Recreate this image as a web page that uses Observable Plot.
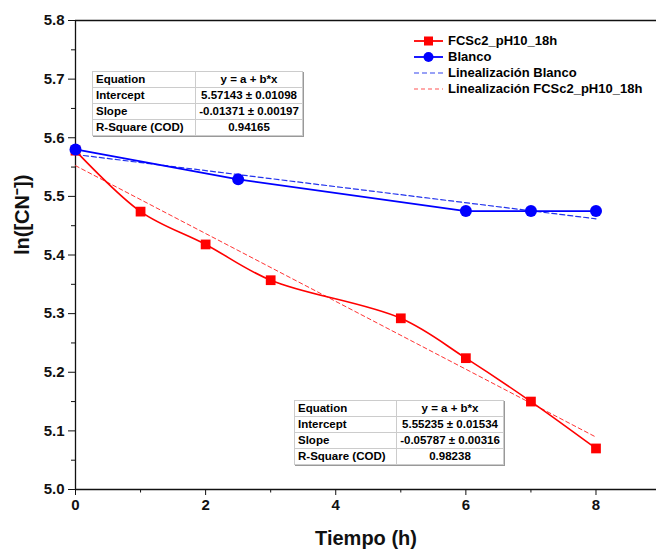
<!DOCTYPE html>
<html>
<head>
<meta charset="utf-8">
<script src="https://cdn.jsdelivr.net/npm/d3@7"></script>
<script src="https://cdn.jsdelivr.net/npm/@observablehq/plot@0.6"></script>
<style>
  html, body { margin: 0; padding: 0; background: #fff; }
  #wrap { position: relative; width: 656px; height: 556px; font-family: "Liberation Sans", Arial, sans-serif; }
  .tbl { position: absolute; border-collapse: collapse; font-family: "Liberation Sans", Arial, sans-serif; font-weight: bold; font-size: 11.5px; background: #fff; box-shadow: 1px 1px 0 #999; }
  .tbl td { border: 1px solid #ccc; padding: 0 3px; height: 15px; line-height: 15px; white-space: nowrap; }
  .tbl { border: 1px solid #333; }
  .tbl td.v { text-align: center; }
  .legend { position: absolute; font-family: "Liberation Sans", Arial, sans-serif; font-weight: bold; font-size: 13px; }
  .legend .row { position: relative; height: 16px; line-height: 16px; }
  .legend svg { position: absolute; left: 0; top: 0; }
  .legend span { position: absolute; left: 34px; top: 0; white-space: nowrap; }
</style>
</head>
<body>
<div id="wrap"></div>
<script>
// Data
const redX = [0, 1, 2, 3, 5, 6, 7, 8];
const redY = [5.578, 5.474, 5.418, 5.357, 5.292, 5.224, 5.150, 5.070];
const blueX = [0, 2.5, 6, 7, 8];
const blueY = [5.580, 5.529, 5.475, 5.475, 5.475];
const seriesNames = ["FCSc2_pH10_18h", "Blanco", "Linealización Blanco", "Linealización FCSc2_pH10_18h"];
const fitIntercept = {blanco: 5.57143, red: 5.55235};
const fitSlope = {blanco: -0.01371, red: -0.05787};
const fitRange = [0, 8];
const tableBlanco = [["Equation", "y = a + b*x"], ["Intercept", "5.57143 ± 0.01098"], ["Slope", "-0.01371 ± 0.00197"], ["R-Square (COD)", "0.94165"]];
const tableRed = [["Equation", "y = a + b*x"], ["Intercept", "5.55235 ± 0.01534"], ["Slope", "-0.05787 ± 0.00316"], ["R-Square (COD)", "0.98238"]];
const yMajor = [5.0, 5.1, 5.2, 5.3, 5.4, 5.5, 5.6, 5.7, 5.8];
const yMinor = [5.05, 5.15, 5.25, 5.35, 5.45, 5.55, 5.65, 5.75];
const xMajor = [0, 2, 4, 6, 8];
const xMinor = [1, 3, 5, 7];

const red = redX.map((x, i) => ({x, y: redY[i]}));
const blue = blueX.map((x, i) => ({x, y: blueY[i]}));
const fitB = fitRange.map(x => ({x, y: fitIntercept.blanco + fitSlope.blanco * x}));
const fitR = fitRange.map(x => ({x, y: fitIntercept.red + fitSlope.red * x}));

const font = "Liberation Sans, Arial, sans-serif";
const chart = Plot.plot({
  width: 656, height: 556,
  marginLeft: 75, marginRight: 0, marginTop: 20, marginBottom: 67,
  style: {fontFamily: font, fontWeight: "bold", fontSize: "15px", color: "#111", background: "#fff"},
  x: {domain: [0, 8.93]},
  y: {domain: [5.0, 5.8]},
  marks: [
    Plot.axisX({ticks: xMajor, tickSize: 6, tickFormat: d => d, label: null, fontSize: 15, tickPadding: 4}),
    Plot.axisX({ticks: xMinor, tickSize: 3.5, tickFormat: null, text: null, label: null}),
    Plot.axisY({ticks: yMajor, tickSize: 7, tickFormat: ".1f", label: null, fontSize: 15, tickPadding: 4}),
    Plot.axisY({ticks: yMinor, tickSize: 4, text: null, label: null}),
    Plot.ruleX([0], {stroke: "#111", strokeWidth: 1.3}),
    Plot.ruleY([5.0], {stroke: "#111", strokeWidth: 1.3}),
    Plot.ruleY([5.8], {stroke: "#111", strokeWidth: 1.3}),
    Plot.line(fitR, {x: "x", y: "y", stroke: "#ff3333", strokeWidth: 1, strokeDasharray: "4,3"}),
    Plot.line(fitB, {x: "x", y: "y", stroke: "#2233ee", strokeWidth: 1.2, strokeDasharray: "5,3"}),
    Plot.line(red, {x: "x", y: "y", stroke: "#ff0000", strokeWidth: 1.6, curve: "catmull-rom"}),
    Plot.dot(red, {x: "x", y: "y", symbol: "square", r: 5.5, fill: "#ff0000", stroke: "none"}),
    Plot.line(blue, {x: "x", y: "y", stroke: "#0000ff", strokeWidth: 1.8}),
    Plot.dot(blue, {x: "x", y: "y", symbol: "circle", r: 6, fill: "#0000ff", stroke: "none"}),
    Plot.text(["Tiempo (h)"], {frameAnchor: "bottom", dy: 55, fontSize: 20, fontWeight: "bold"}),
    Plot.text(["ln([CN⁻])"], {frameAnchor: "left", dx: -53, rotate: -90, fontSize: 20, fontWeight: "bold"})
  ]
});
const wrap = document.getElementById("wrap");
wrap.appendChild(chart);

function makeTable(rows, left, top, w1, w2) {
  const t = document.createElement("table");
  t.className = "tbl";
  t.style.left = left + "px"; t.style.top = top + "px";
  rows.forEach(r => {
    const tr = document.createElement("tr");
    const a = document.createElement("td"); a.textContent = r[0]; a.style.width = w1 + "px";
    const b = document.createElement("td"); b.textContent = r[1]; b.className = "v"; b.style.width = w2 + "px";
    tr.appendChild(a); tr.appendChild(b); t.appendChild(tr);
  });
  wrap.appendChild(t);
}
makeTable(tableBlanco, 92, 71, 96, 100);
makeTable(tableRed, 294, 400, 95, 100);

// Legend
const leg = document.createElement("div");
leg.className = "legend";
leg.style.left = "414px"; leg.style.top = "33px";
const legStyles = [
  {stroke: "#ff0000", dash: null, sym: "square"},
  {stroke: "#0000ff", dash: null, sym: "circle"},
  {stroke: "#3344ee", dash: "5,3", sym: null},
  {stroke: "#ff5555", dash: "4,3", sym: null}
];
seriesNames.forEach((name, i) => {
  const s = legStyles[i];
  const row = document.createElement("div"); row.className = "row";
  let sym = "";
  if (s.sym === "square") sym = `<rect x="10" y="3.5" width="9" height="9" fill="${s.stroke}"/>`;
  if (s.sym === "circle") sym = `<circle cx="14.5" cy="8" r="5" fill="${s.stroke}"/>`;
  row.innerHTML = `<svg width="30" height="16"><line x1="0" x2="29" y1="8" y2="8" stroke="${s.stroke}" stroke-width="${s.dash ? 1.2 : 1.8}" ${s.dash ? `stroke-dasharray="${s.dash}"` : ""}/>${sym}</svg><span>${name}</span>`;
  leg.appendChild(row);
});
wrap.appendChild(leg);
</script>
</body>
</html>
